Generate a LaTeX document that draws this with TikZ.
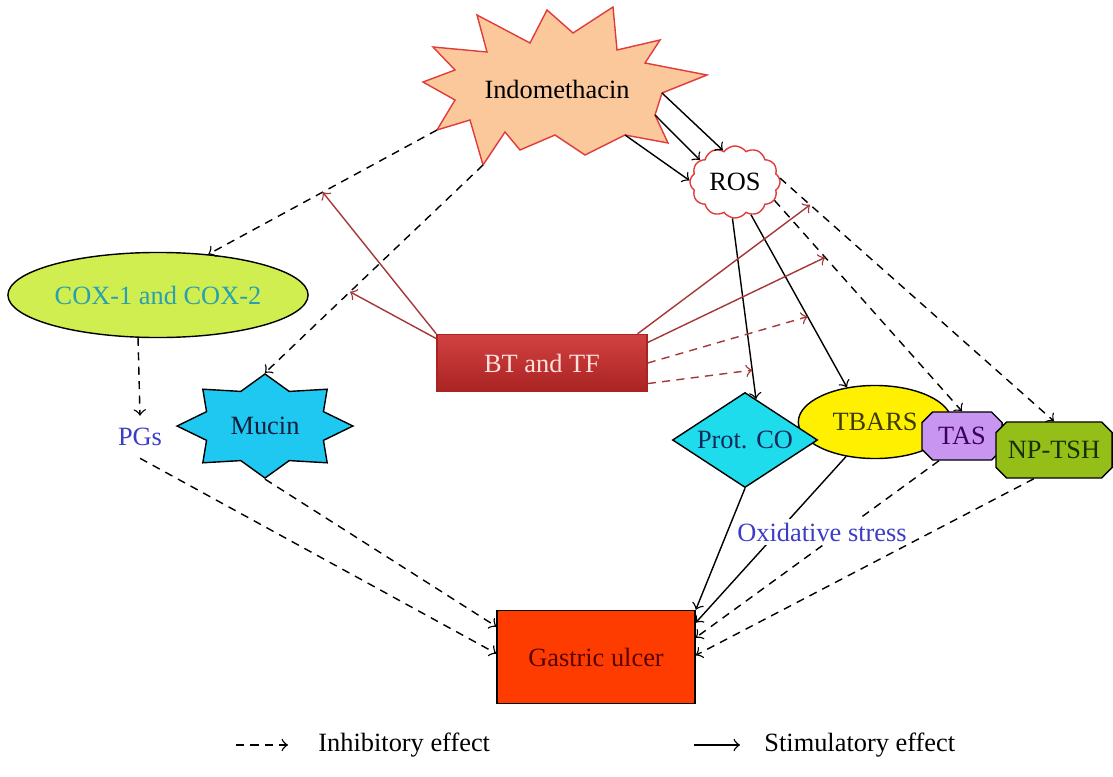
\documentclass[tikz,border=0pt]{standalone}
\usepackage{fontspec}
\setmainfont{Liberation Serif}
\usetikzlibrary{shapes.geometric, shapes.symbols, shapes.misc}

\begin{document}
\begin{tikzpicture}[x=0.01cm, y=-0.01cm,
    font=\fontsize{7.5}{9}\selectfont,
    inhib/.style={->, dash pattern=on 2.3pt off 1.8pt},
    stim/.style={->},
    btstim/.style={->, btline},
    btinhib/.style={->, btline, dash pattern=on 2.3pt off 1.8pt}]
    % frame
    \useasboundingbox (0,0) rectangle (1113,776);
    % colours
    \definecolor{indofill}{RGB}{250,200,155}
    \definecolor{indoline}{RGB}{225,60,60}
    \definecolor{coxfill}{RGB}{208,238,80}
    \definecolor{coxtext}{RGB}{40,160,175}
    \definecolor{pgtext}{RGB}{60,60,200}
    \definecolor{mucinfill}{RGB}{30,200,240}
    \definecolor{bttop}{RGB}{210,65,65}
    \definecolor{btbottom}{RGB}{170,35,35}
    \definecolor{bttext}{RGB}{255,225,220}
    \definecolor{btline}{RGB}{165,55,55}
    \definecolor{protfill}{RGB}{30,220,235}
    \definecolor{tbarsfill}{RGB}{255,240,0}
    \definecolor{tasfill}{RGB}{200,150,240}
    \definecolor{npfill}{RGB}{150,190,25}
    \definecolor{gufill}{RGB}{255,60,0}
    % drug burst
    \draw[indoline, fill=indofill] (433,47) -- (487,52) -- (477,15) -- (530,43) -- (547,10)
        -- (573,33) -- (613,7) -- (617,50) -- (660,40) -- (645,63) -- (707,75)
        -- (662,93) coordinate (indoA) -- (655,115) coordinate (indoB) -- (668,143)
        -- (625,135) coordinate (indoC) -- (585,155) -- (555,135) -- (520,150) -- (505,132)
        -- (483,165) coordinate (indoM) -- (470,120) -- (437,130) coordinate (indoX)
        -- (455,100) -- (423,82) -- (455,70) -- cycle;
    \node (indo) at (557,89) {Indomethacin};
    \node[cloud, cloud puffs=12, cloud puff arc=110, aspect=1.3, draw=indoline, fill=white, inner sep=0pt, minimum width=0.9cm, minimum height=0.72cm] (ros) at (735,182) {ROS};
    % left branch
    \node[ellipse, draw, fill=coxfill, text=coxtext, inner xsep=0pt, minimum width=3.0cm, minimum height=0.85cm] (cox) at (158,295) {COX-1 and COX-2};
    \node[text=pgtext] (pgs) at (140,437) {PGs};
    \node[star, star points=8, star point ratio=1.39, minimum size=1.04cm, inner sep=0pt, draw, fill=mucinfill, xscale=1.69, transform shape] (mustar) at (265,426) {};
    \node[text={rgb,255:red,20;green,30;blue,60}] (mucin) at (mustar) {Mucin};
    % extract
    \node[draw=btbottom, top color=bttop, bottom color=btbottom, text=bttext, minimum width=2.1cm, minimum height=0.57cm] (bt) at (542,363) {BT and TF};
    % oxidative markers
    \node[ellipse, draw, fill=tbarsfill, text={rgb,255:red,60;green,60;blue,0}, minimum width=1.5cm, minimum height=0.73cm] (tbars) at (875,422) {TBARS};
    \node[diamond, aspect=1.5, draw, fill=protfill, text={rgb,255:red,20;green,40;blue,90}, minimum width=1.45cm, minimum height=0.95cm, inner sep=0pt] (prot) at (745,440) {Prot. CO};
    \node[chamfered rectangle, chamfered rectangle xsep=1.5pt, chamfered rectangle ysep=1.5pt, inner sep=1pt, draw, fill=tasfill, text={rgb,255:red,60;green,0;blue,90}, minimum width=0.8cm, minimum height=0.48cm] (tas) at (962,436) {TAS};
    \node[chamfered rectangle, chamfered rectangle xsep=1.5pt, chamfered rectangle ysep=1.5pt, inner sep=1pt, draw, fill=npfill, text={rgb,255:red,20;green,50;blue,0}, minimum width=1.16cm, minimum height=0.56cm] (np) at (1054,450) {NP-TSH};
    % outcome
    \node[draw, fill=gufill, text={rgb,255:red,90;green,0;blue,0}, minimum width=1.98cm, minimum height=0.93cm] (gu) at (596,657) {Gastric ulcer};
    % indomethacin effects
    \draw[inhib] (indoX) -- (cox.39) coordinate[pos=0.5] (onCox);
    \draw[inhib] (indoM) -- (mustar.north) coordinate[pos=0.61] (onMucin);
    \draw[stim] (indoA) -- (ros.111);
    \draw[stim] (indoB) -- (ros.148);
    \draw[stim] (indoC) -- (ros.178);
    % ros effects
    \draw[stim] (ros.-94) -- (prot.75) coordinate[pos=0.84] (onProt);
    \draw[stim] (ros.-64) -- (tbars.129) coordinate[pos=0.59] (onTbars);
    \draw[inhib] (ros.-25) -- (tas.north) coordinate[pos=0.27] (onTas);
    \draw[inhib] (ros.5) -- (np.north) coordinate[pos=0.11] (onNp);
    % bt and tf effects
    \draw[btstim] (bt.north west) -- (onCox);
    \draw[btstim] (bt.167) -- (onMucin);
    \draw[btstim] (bt.17) -- (onNp);
    \draw[btstim] (bt.11) -- (onTas);
    \draw[btinhib] (bt.east) -- (onTbars);
    \draw[btinhib] (bt.-11) -- (onProt);
    % towards the ulcer
    \draw[inhib] (cox.-115) -- (pgs.north);
    \draw[inhib] (pgs.south) -- (gu.178);
    \draw[inhib] (mustar.south) -- (gu.163);
    \draw[stim] (prot.south) -- (gu.north east);
    \draw[stim] (tbars.-130) -- (gu.19);
    \draw[inhib] (tas.-133) -- (gu.11);
    \draw[inhib] (np.-125) -- (gu.1);
    \node[fill=white, text=pgtext, inner sep=1pt] (ox) at (822,532) {Oxidative stress};
    % legend
    \coordinate (inhA) at (236,745);
    \coordinate (inhB) at (288,745);
    \draw[inhib] (inhA) -- (inhB);
    \node[anchor=west] (inhlabel) at (306,745) {Inhibitory effect};
    \coordinate (stimA) at (694,745);
    \coordinate (stimB) at (740,745);
    \draw[stim] (stimA) -- (stimB);
    \node[anchor=west] (stimlabel) at (752,745) {Stimulatory effect};
\end{tikzpicture}
\end{document}
